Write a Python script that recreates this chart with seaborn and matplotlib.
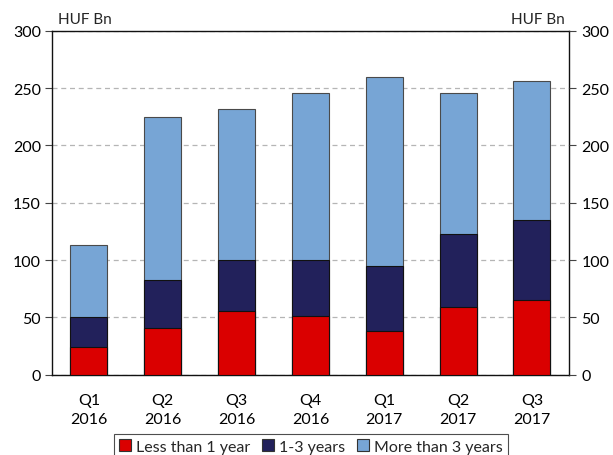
import pandas as pd
import matplotlib
matplotlib.use("Agg")
import matplotlib.pyplot as plt
from matplotlib.patches import Patch
import seaborn as sns

# data (HUF Bn)
quarters = ["Q1\n2016", "Q2\n2016", "Q3\n2016", "Q4\n2016", "Q1\n2017", "Q2\n2017", "Q3\n2017"]
less_1y = [24, 41, 56, 51, 38, 59, 65]
one_3y = [26, 42, 44, 49, 57, 64, 70]
more_3y = [63, 142, 132, 146, 165, 123, 121]

series_names = ["Less than 1 year", "1-3 years", "More than 3 years"]
COLORS = {"red": "#DA0000", "navy": "#22215B", "light": "#77A5D5"}

df = pd.DataFrame({"quarter": quarters, "less": less_1y, "mid": one_3y, "more": more_3y})
df["cum_mid"] = df["less"] + df["mid"]
df["cum_more"] = df["cum_mid"] + df["more"]

sns.set_theme(style="white")
plt.rcParams["font.family"] = ["Lato", "DejaVu Sans"]

fig, ax = plt.subplots(figsize=(6.13, 4.56), dpi=100)
fig.subplots_adjust(left=0.0848, right=0.928, top=0.9305, bottom=0.176)

# stacked bars drawn as overlapping cumulative totals
sns.barplot(data=df, x="quarter", y="cum_more", color=COLORS["light"], width=0.5,
            edgecolor="#4a4a4a", linewidth=0.8, saturation=1, ax=ax, zorder=3)
sns.barplot(data=df, x="quarter", y="cum_mid", color=COLORS["navy"], width=0.5,
            edgecolor="#111111", linewidth=0.8, saturation=1, ax=ax, zorder=3)
sns.barplot(data=df, x="quarter", y="less", color=COLORS["red"], width=0.5,
            edgecolor="#111111", linewidth=0.8, saturation=1, ax=ax, zorder=3)

ax.set_ylim(0, 300)
ax.set_yticks(range(0, 301, 50))
ax.set_xlabel("")
ax.set_ylabel("")
ax.yaxis.grid(True, linestyle=(0, (4, 3)), color="#b5b5b5", linewidth=0.9, zorder=0)
ax.set_axisbelow(True)
for s in ax.spines.values():
    s.set_color("#111111")
    s.set_linewidth(1.0)
ax.tick_params(axis="y", direction="out", length=5, width=0.8, color="#444444",
               labelsize=11.5, labelcolor="black", left=True, pad=3)
ax.tick_params(axis="x", length=0, labelsize=11.5, labelcolor="black", pad=13)
for lab in ax.get_xticklabels():
    lab.set_linespacing(1.5)

ax2 = ax.twinx()
ax2.set_ylim(0, 300)
ax2.set_yticks(range(0, 301, 50))
ax2.tick_params(axis="y", direction="out", length=5, width=0.8, color="#444444",
                labelsize=11.5, labelcolor="black", right=True, pad=4)
for s in ax2.spines.values():
    s.set_visible(False)

ax.text(0.012, 1.015, "HUF Bn", transform=ax.transAxes, ha="left", va="bottom", fontsize=11)
ax.text(0.993, 1.015, "HUF Bn", transform=ax.transAxes, ha="right", va="bottom", fontsize=11)

handles = [Patch(facecolor=COLORS["red"], edgecolor="#333333", linewidth=0.8),
           Patch(facecolor=COLORS["navy"], edgecolor="#333333", linewidth=0.8),
           Patch(facecolor=COLORS["light"], edgecolor="#333333", linewidth=0.8)]
leg = fig.legend(handles, series_names, loc="center", bbox_to_anchor=(0.507, 0.019),
                 ncol=3, frameon=True, fontsize=11.5, handlelength=0.75, handleheight=0.75,
                 handletextpad=0.35, columnspacing=0.7, borderpad=0.3, fancybox=False)
leg.get_frame().set_edgecolor("#222222")
leg.get_frame().set_linewidth(0.8)

fig.savefig("out.png", dpi=100)
